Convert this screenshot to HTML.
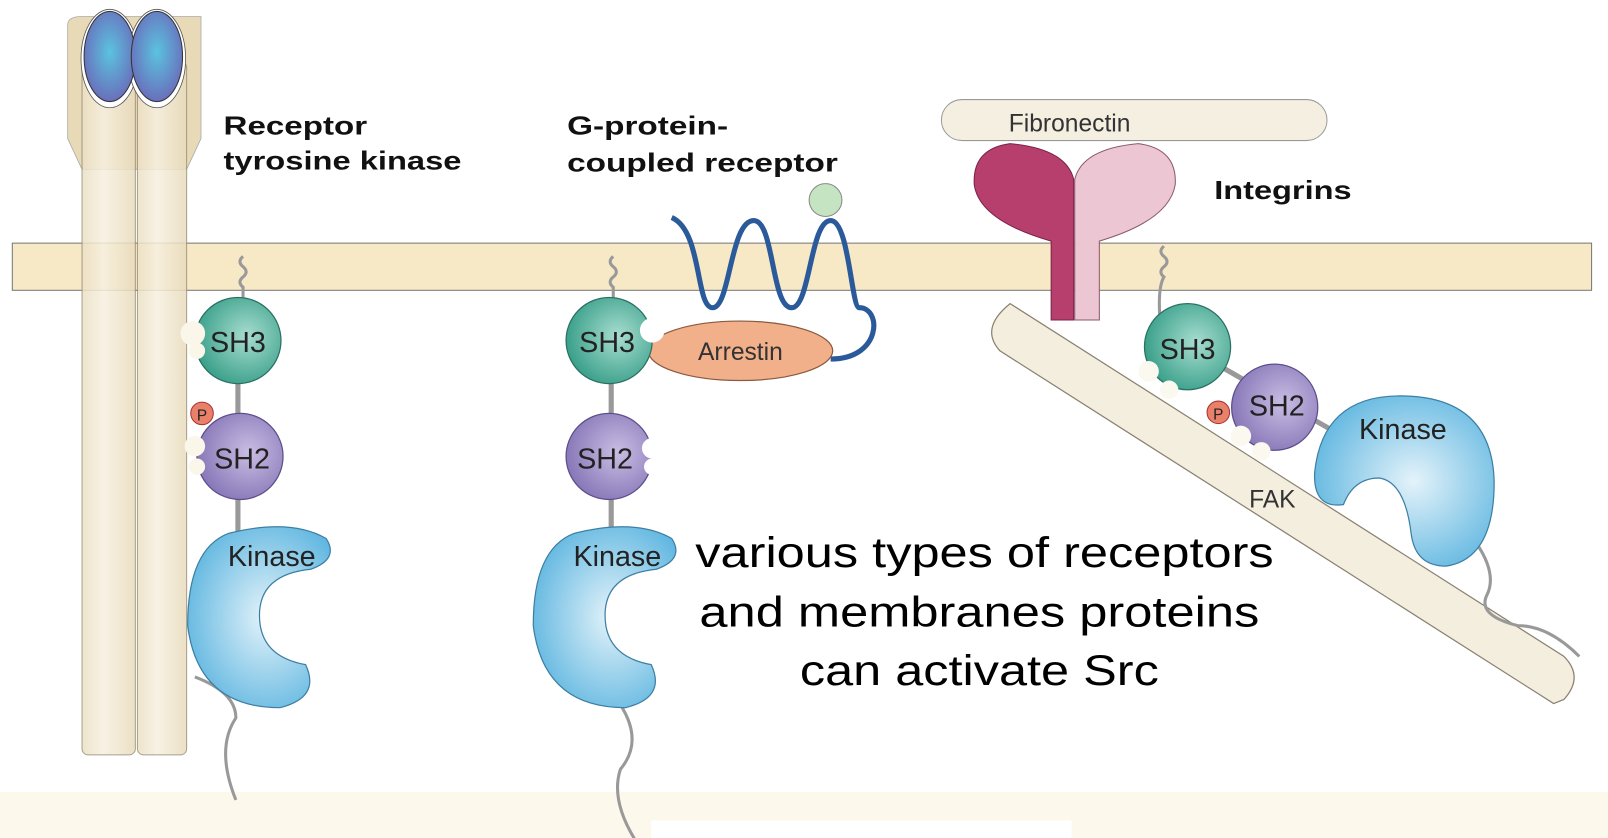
<!DOCTYPE html>
<html><head><meta charset="utf-8"><style>
html,body{margin:0;padding:0;background:#fff;}
svg{display:block;}
text{font-family:"Liberation Sans",sans-serif;}
</style></head><body>
<svg width="1608" height="838" viewBox="0 0 1568 817" xmlns="http://www.w3.org/2000/svg">
<defs>
<radialGradient id="bl" cx="0.5" cy="0.45" r="0.6"><stop offset="0" stop-color="#5bc3e0"/><stop offset="1" stop-color="#6a68b8"/></radialGradient>
<radialGradient id="tq" cx="0.6" cy="0.45" r="0.6"><stop offset="0" stop-color="#a8ddd0"/><stop offset="1" stop-color="#3aa08a"/></radialGradient>
<radialGradient id="pu" cx="0.6" cy="0.45" r="0.6"><stop offset="0" stop-color="#c9bde3"/><stop offset="1" stop-color="#8878b8"/></radialGradient>
<radialGradient id="ki" cx="0.55" cy="0.5" r="0.6"><stop offset="0" stop-color="#e4f3fa"/><stop offset="1" stop-color="#5fb6e0"/></radialGradient>
<linearGradient id="col" x1="0" x2="1"><stop offset="0" stop-color="#ece0c4"/><stop offset="0.4" stop-color="#f7f0e0"/><stop offset="1" stop-color="#e8dbbb"/></linearGradient>
<g id="kin"><path d="M40,8 Q100,-7 135,13 Q148,33 120,43 Q70,48 70,88 Q70,128 115,136 Q130,168 90,178 Q10,178 0,98 Q0,23 40,8 Z" fill="url(#ki)" stroke="#3d7fa3" stroke-width="1.2"/></g>
</defs>
<!-- bottom band -->
<rect x="0" y="772" width="1568" height="45" fill="#fdf8ec"/>
<rect x="635" y="800" width="410" height="17" fill="#fff"/>
<!-- membrane -->
<rect x="12" y="237" width="1540" height="46" fill="#f8e9c6" stroke="#777" stroke-width="1"/>
<!-- RTK -->
<path d="M66,24 Q66,16 80,16 L196,16 Q196,16 196,24 L196,135 L182,165 L80,165 L66,135 Z" fill="#e8dab7" stroke="#aaa" stroke-width="0.8"/>
<rect x="80" y="60" width="52" height="676" rx="6" fill="url(#col)" stroke="#9a8f78" stroke-width="1" opacity="0.85"/>
<rect x="134" y="60" width="48" height="676" rx="6" fill="url(#col)" stroke="#9a8f78" stroke-width="1" opacity="0.85"/>
<ellipse cx="107" cy="57" rx="28" ry="48" fill="#fff" stroke="#555" stroke-width="0.8"/><ellipse cx="153" cy="57" rx="28" ry="48" fill="#fff" stroke="#555" stroke-width="0.8"/>
<ellipse cx="107" cy="55" rx="25" ry="44" fill="url(#bl)" stroke="#333" stroke-width="1"/>
<ellipse cx="153" cy="55" rx="25" ry="44" fill="url(#bl)" stroke="#333" stroke-width="1"/>
<text x="218" y="131" font-size="25" font-weight="bold" fill="#111" textLength="140" lengthAdjust="spacingAndGlyphs">Receptor</text>
<text x="218" y="165" font-size="25" font-weight="bold" fill="#111" textLength="232" lengthAdjust="spacingAndGlyphs">tyrosine kinase</text>
<!-- RTK src -->
<path d="M237,250 q-6,5 0,10 q6,5 0,10 q-6,5 0,10 v10" stroke="#999" stroke-width="3" fill="none"/>
<path d="M230,780 q-20,-50 0,-80 q0,-25 -40,-40" stroke="#999" stroke-width="3" fill="none"/>
<line x1="232" y1="360" x2="232" y2="520" stroke="#999" stroke-width="5"/>
<circle cx="232" cy="332" r="42" fill="url(#tq)" stroke="#2b6f61" stroke-width="1.2"/>
<circle cx="188" cy="325" r="12" fill="#fbf6ea"/><circle cx="192" cy="342" r="8" fill="#fbf6ea"/>
<text x="232" y="343" font-size="28" text-anchor="middle" fill="#222">SH3</text>
<circle cx="234" cy="445" r="42" fill="url(#pu)" stroke="#5b4e8a" stroke-width="1.2"/>
<circle cx="190" cy="435" r="10" fill="#fbf6ea"/><circle cx="192" cy="455" r="8" fill="#fbf6ea"/>
<text x="236" y="457" font-size="28" text-anchor="middle" fill="#222">SH2</text>
<circle cx="197" cy="403" r="11" fill="#e8806a" stroke="#a33" stroke-width="1"/><text x="197" y="410" font-size="15" text-anchor="middle" fill="#222">P</text>
<use href="#kin" x="183" y="512"/>
<text x="265" y="552" font-size="28" text-anchor="middle" fill="#222">Kinase</text>
<!-- GPCR -->
<text x="553" y="131" font-size="25" font-weight="bold" fill="#111" textLength="157" lengthAdjust="spacingAndGlyphs">G-protein-</text>
<text x="553" y="167" font-size="25" font-weight="bold" fill="#111" textLength="264" lengthAdjust="spacingAndGlyphs">coupled receptor</text>
<circle cx="805" cy="195" r="16" fill="#c5e5c2" stroke="#888" stroke-width="1"/>
<path d="M655,212 C685,225 678,300 695,300 C712,300 712,215 735,215 C755,215 752,300 772,300 C790,300 790,215 810,215 C828,215 830,300 838,300 C860,300 860,350 810,350" stroke="#2a5a9a" stroke-width="5" fill="none"/>
<ellipse cx="722" cy="342" rx="90" ry="29" fill="#f2b08a" stroke="#8a5a40" stroke-width="1.2"/>
<text x="722" y="351" font-size="24" text-anchor="middle" fill="#333">Arrestin</text>
<path d="M598,250 q-6,5 0,10 q6,5 0,10 q-6,5 0,10 v10" stroke="#999" stroke-width="3" fill="none"/>
<line x1="596" y1="360" x2="596" y2="520" stroke="#999" stroke-width="5"/>
<path d="M600,680 q30,40 5,70 q-10,30 15,70" stroke="#999" stroke-width="3" fill="none"/>
<circle cx="594" cy="332" r="42" fill="url(#tq)" stroke="#2b6f61" stroke-width="1.2"/>
<circle cx="636" cy="322" r="12" fill="#fff"/>
<text x="592" y="343" font-size="28" text-anchor="middle" fill="#222">SH3</text>
<circle cx="594" cy="445" r="42" fill="url(#pu)" stroke="#5b4e8a" stroke-width="1.2"/>
<circle cx="636" cy="437" r="10" fill="#fff"/><circle cx="636" cy="455" r="8" fill="#fff"/>
<text x="590" y="457" font-size="28" text-anchor="middle" fill="#222">SH2</text>
<use href="#kin" x="520" y="512"/>
<text x="602" y="552" font-size="28" text-anchor="middle" fill="#222">Kinase</text>
<!-- Integrin -->
<rect x="918" y="97" width="376" height="40" rx="20" fill="#f5efe2" stroke="#999" stroke-width="1"/>
<text x="1043" y="128" font-size="24" text-anchor="middle" fill="#333">Fibronectin</text>
<path d="M985,140 Q948,145 950,180 Q955,215 1025,235 L1025,312 L1047,312 L1047,175 Q1040,145 985,140 Z" fill="#b63f6e" stroke="#7a2246" stroke-width="1"/>
<path d="M1110,140 Q1148,145 1146,180 Q1140,215 1072,235 L1072,312 L1048,312 L1048,175 Q1055,145 1110,140 Z" fill="#ecc6d2" stroke="#8a5a68" stroke-width="1"/>
<text x="1184" y="194" font-size="25" font-weight="bold" fill="#111" textLength="134" lengthAdjust="spacingAndGlyphs">Integrins</text>
<path d="M985,296 L1525,640 Q1545,660 1525,682 L1515,686 L975,342 Q955,320 985,296 Z" fill="#f4eedf" stroke="#8a8070" stroke-width="1.2"/>
<text x="1218" y="495" font-size="24" fill="#333">FAK</text>
<path d="M1135,240 q-6,5 0,10 q6,5 0,10 q-6,5 0,10 q-6,10 -4,40" stroke="#999" stroke-width="3" fill="none"/>
<line x1="1160" y1="340" x2="1300" y2="420" stroke="#999" stroke-width="5"/>
<path d="M1440,530 q20,30 10,50 q-10,20 30,30 q30,0 60,30" stroke="#999" stroke-width="3" fill="none"/>
<circle cx="1158" cy="338" r="42" fill="url(#tq)" stroke="#2b6f61" stroke-width="1.2"/>
<circle cx="1120" cy="362" r="10" fill="#fbf8ef"/><circle cx="1140" cy="380" r="9" fill="#fbf8ef"/>
<text x="1158" y="350" font-size="28" text-anchor="middle" fill="#222">SH3</text>
<circle cx="1243" cy="397" r="42" fill="url(#pu)" stroke="#5b4e8a" stroke-width="1.2"/>
<circle cx="1210" cy="425" r="10" fill="#fbf8ef"/><circle cx="1230" cy="440" r="9" fill="#fbf8ef"/>
<text x="1245" y="405" font-size="28" text-anchor="middle" fill="#222">SH2</text>
<circle cx="1188" cy="402" r="11" fill="#e8806a" stroke="#a33" stroke-width="1"/><text x="1188" y="409" font-size="15" text-anchor="middle" fill="#222">P</text>
<path d="M1365,386 Q1455,386 1457,470 Q1457,545 1410,552 Q1380,552 1376,520 Q1370,470 1345,466 Q1320,466 1310,492 Q1280,496 1282,460 Q1290,386 1365,386 Z" fill="url(#ki)" stroke="#3d7fa3" stroke-width="1.2"/>
<text x="1368" y="428" font-size="28" text-anchor="middle" fill="#222">Kinase</text>
<!-- caption -->
<text x="678" y="553" font-size="42" fill="#000" textLength="564" lengthAdjust="spacingAndGlyphs">various types of receptors</text>
<text x="682" y="611" font-size="42" fill="#000" textLength="546" lengthAdjust="spacingAndGlyphs">and membranes proteins</text>
<text x="780" y="668" font-size="42" fill="#000" textLength="350" lengthAdjust="spacingAndGlyphs">can activate Src</text>
</svg>
</body></html>
